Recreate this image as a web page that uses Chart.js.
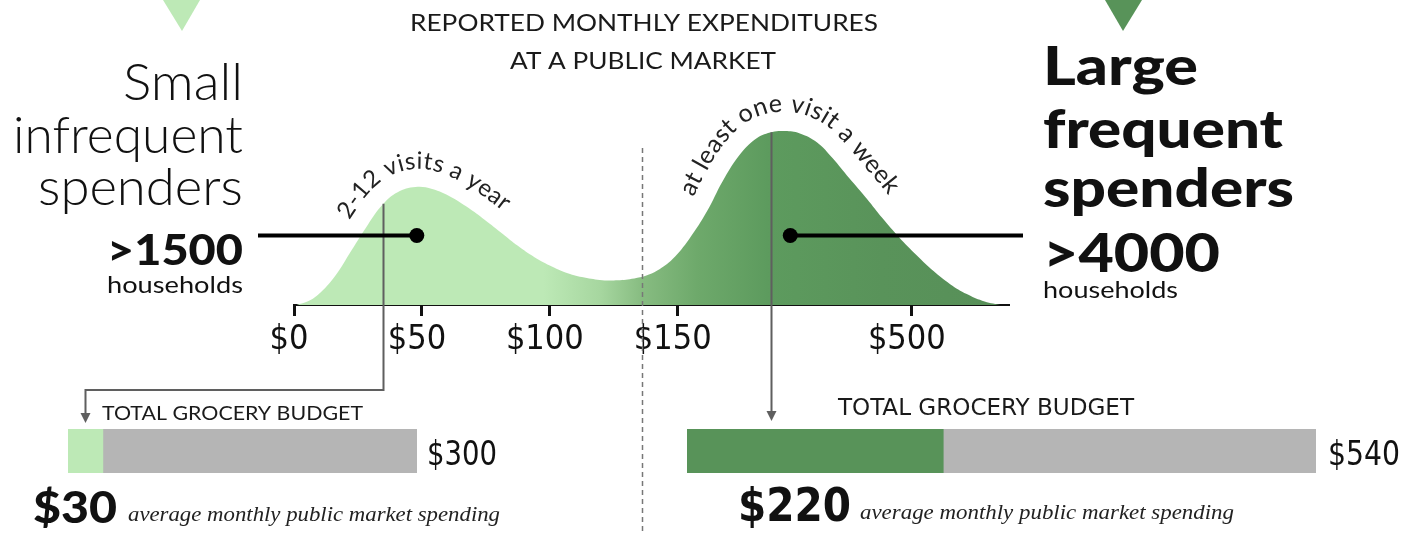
<!DOCTYPE html>
<html>
<head>
<meta charset="utf-8">
<script src="https://cdn.jsdelivr.net/npm/chart.js@4/dist/chart.umd.min.js"></script>
<style>
  html, body { margin: 0; padding: 0; background: #ffffff; }
  #wrap { position: relative; width: 1416px; height: 533px; overflow: hidden; background: #fff; }
  canvas { position: absolute; display: block; }
</style>
</head>
<body>
<div id="wrap">
  <canvas id="main" width="1416" height="533" style="left:0;top:0;width:1416px;height:533px"></canvas>
  <canvas id="barL"></canvas>
  <canvas id="barR"></canvas>
</div>
<script>
// ---------------- DATA ----------------
const spendTickLabels    = [0, 50, 100, 150, 500];          // $ labels on the axis
const spendTickPositions = [0, 1, 2, 3, 4.83];              // where each label sits on the (non-linear) spend axis
const curvePosition = [0.02, 0.10, 0.19, 0.32, 0.45, 0.58, 0.69, 0.81, 0.95, 1.08, 1.23, 1.36, 1.49, 1.63, 1.75,
                       1.88, 2.02, 2.14, 2.27, 2.41, 2.53, 2.66, 2.75, 2.84, 2.96, 3.09, 3.23, 3.35, 3.48, 3.62,
                       3.74, 3.84, 3.95, 4.09, 4.21, 4.34, 4.48, 4.60, 4.73, 4.87, 5.00, 5.13, 5.26, 5.38, 5.52];
const curveDensity  = [0, 1.8, 6.0, 16.5, 31.5, 46.5, 57.5, 64.8, 67.8, 66.7, 62.0, 56.0, 49.0, 41.0, 34.0,
                       27.5, 22.0, 18.3, 15.8, 14.3, 14.2, 15.3, 16.8, 19.8, 26.5, 38.0, 54.0, 71.0, 86.0, 96.0,
                       99.5, 100, 98.8, 93.5, 84.5, 73.0, 61.0, 50.0, 39.0, 28.5, 19.5, 12.0, 6.3, 2.5, 0];
const groupNames      = [["Small", "infrequent", "spenders"], ["Large", "frequent", "spenders"]];
const householdCounts = [">1500", ">4000"];
const visitLabels     = ["2-12 visits a year", "at least one visit a week"];
const avgMarketSpend  = [30, 220];     // average monthly public market spending ($)
const groceryBudget   = [300, 540];    // total grocery budget ($)
const dividerPosition = 2.72;          // dashed divider on spend axis
const budgetLinePosition = [0.695, 3.727];
const dotPosition     = [0.96, 3.88];
const dotLevel        = 40;

// ---------------- STYLE ----------------
const LIGHT = '#bde9b6', DARK = '#589359', GREY = '#b5b5b5', INK = '#111111';
const NARROW = "'Liberation Sans Narrow', 'DejaVu Sans Condensed', 'Roboto Condensed', Roboto, sans-serif";
const SANS = "Lato, 'Open Sans', sans-serif";
const SERIF = "'Liberation Serif', 'DejaVu Serif', serif";
const PX_PER_DOLLAR = 1.164;

function fitText(ctx, text, x, y, o) {
  ctx.save();
  ctx.font = `${o.style || 'normal'} ${o.weight || 400} ${o.size}px ${o.family || SANS}`;
  ctx.fillStyle = o.color || INK;
  const w = ctx.measureText(text).width;
  const sx = o.width ? o.width / w : 1;
  const ww = w * sx;
  const x0 = o.align === 'right' ? x - ww : o.align === 'center' ? x - ww / 2 : x;
  ctx.translate(x0, y);
  ctx.scale(sx, 1);
  ctx.textAlign = 'left';
  ctx.textBaseline = 'alphabetic';
  ctx.fillText(text, 0, 0);
  ctx.restore();
}

function sampleCurve(chart) {
  const pts = chart.getDatasetMeta(0).data;
  const out = [];
  for (let i = 0; i < pts.length - 1; i++) {
    const a = pts[i], b = pts[i + 1];
    const c1x = a.cp2x ?? a.x, c1y = a.cp2y ?? a.y, c2x = b.cp1x ?? b.x, c2y = b.cp1y ?? b.y;
    const N = 14;
    for (let k = 0; k < N; k++) {
      const t = k / N, m = 1 - t;
      out.push({
        x: m*m*m*a.x + 3*m*m*t*c1x + 3*m*t*t*c2x + t*t*t*b.x,
        y: m*m*m*a.y + 3*m*m*t*c1y + 3*m*t*t*c2y + t*t*t*b.y
      });
    }
  }
  const l = pts[pts.length - 1];
  out.push({ x: l.x, y: l.y });
  return out;
}

function yOnCurve(s, px) {
  for (let i = 0; i < s.length - 1; i++) {
    if (s[i].x <= px && s[i + 1].x >= px) {
      const t = (px - s[i].x) / ((s[i + 1].x - s[i].x) || 1);
      return s[i].y + (s[i + 1].y - s[i].y) * t;
    }
  }
  return s[s.length - 1].y;
}

function textOnCurve(ctx, s, text, startPx, offset, font, color, spacing) {
  const n = s.length, off = [];
  for (let i = 0; i < n; i++) {
    const a = s[Math.max(0, i - 2)], b = s[Math.min(n - 1, i + 2)];
    let dx = b.x - a.x, dy = b.y - a.y;
    const L = Math.hypot(dx, dy) || 1; dx /= L; dy /= L;
    off.push({ x: s[i].x + dy * offset, y: s[i].y - dx * offset });
  }
  const len = [0];
  for (let i = 1; i < n; i++) len.push(len[i - 1] + Math.hypot(off[i].x - off[i - 1].x, off[i].y - off[i - 1].y));
  let i0 = s.findIndex(p => p.x >= startPx);
  if (i0 < 0) i0 = 0;
  let pos = len[i0];
  ctx.save();
  ctx.font = font;
  ctx.fillStyle = color;
  ctx.textAlign = 'center';
  ctx.textBaseline = 'alphabetic';
  for (const ch of text) {
    const w = ctx.measureText(ch).width + (spacing || 0);
    const mid = pos + w / 2;
    let j = 0;
    while (j < n - 2 && len[j + 1] < mid) j++;
    const t = (mid - len[j]) / ((len[j + 1] - len[j]) || 1);
    const x = off[j].x + (off[j + 1].x - off[j].x) * t;
    const y = off[j].y + (off[j + 1].y - off[j].y) * t;
    const pa = off[Math.max(0, j - 5)], pb = off[Math.min(n - 1, j + 6)];
    const ang = Math.atan2(pb.y - pa.y, pb.x - pa.x);
    ctx.save();
    ctx.translate(x, y);
    ctx.rotate(ang);
    ctx.fillText(ch, 0, 0);
    ctx.restore();
    pos += w;
  }
  ctx.restore();
}

function arrowDown(ctx, x, tipY, color) {
  ctx.save();
  ctx.fillStyle = color;
  ctx.beginPath();
  ctx.moveTo(x - 5, tipY - 10);
  ctx.lineTo(x + 5, tipY - 10);
  ctx.lineTo(x, tipY);
  ctx.closePath();
  ctx.fill();
  ctx.restore();
}

const overlay = {
  id: 'overlay',
  afterDatasetsDraw(chart) {
    const ctx = chart.ctx, xs = chart.scales.x, ys = chart.scales.y;
    const s = sampleCurve(chart);

    // budget marker lines leading to the bars below
    ctx.save();
    ctx.strokeStyle = '#5f5f5f';
    ctx.lineWidth = 2;
    const lx = Math.round(xs.getPixelForValue(budgetLinePosition[0])) + 0.5;
    const rx = Math.round(xs.getPixelForValue(budgetLinePosition[1])) + 0.5;
    const leftBarX = 68 + 17.5;
    ctx.beginPath();
    ctx.moveTo(lx, yOnCurve(s, lx));
    ctx.lineTo(lx, 390);
    ctx.lineTo(leftBarX, 390);
    ctx.lineTo(leftBarX, 414);
    ctx.moveTo(rx, yOnCurve(s, rx));
    ctx.lineTo(rx, 412);
    ctx.stroke();
    ctx.restore();
    arrowDown(ctx, leftBarX, 423, '#5f5f5f');
    arrowDown(ctx, rx, 421, '#5f5f5f');

    // dashed divider
    ctx.save();
    ctx.strokeStyle = '#777777';
    ctx.lineWidth = 1.5;
    ctx.setLineDash([5, 4]);
    const dx = Math.round(xs.getPixelForValue(dividerPosition)) + 0.5;
    ctx.beginPath();
    ctx.moveTo(dx, 148);
    ctx.lineTo(dx, 533);
    ctx.stroke();
    ctx.restore();

    // connectors with dots
    const dy = ys.getPixelForValue(dotLevel);
    const d1 = xs.getPixelForValue(dotPosition[0]), d2 = xs.getPixelForValue(dotPosition[1]);
    ctx.save();
    ctx.strokeStyle = '#000';
    ctx.fillStyle = '#000';
    ctx.lineWidth = 4;
    ctx.beginPath();
    ctx.moveTo(258, dy); ctx.lineTo(d1, dy);
    ctx.moveTo(d2, dy); ctx.lineTo(1023, dy);
    ctx.stroke();
    ctx.beginPath(); ctx.arc(d1, dy, 7.5, 0, Math.PI * 2); ctx.fill();
    ctx.beginPath(); ctx.arc(d2, dy, 7.5, 0, Math.PI * 2); ctx.fill();
    ctx.restore();

    // curved labels
    textOnCurve(ctx, s, visitLabels[0], xs.getPixelForValue(0.54), 18, `400 24px ${SANS}`, '#222', 0.4);
    textOnCurve(ctx, s, visitLabels[1], xs.getPixelForValue(3.25), 19, `400 25px ${SANS}`, '#222', 0.4);
  },
  afterDraw(chart) {
    const ctx = chart.ctx;
    // triangles
    ctx.save();
    ctx.fillStyle = LIGHT;
    ctx.beginPath(); ctx.moveTo(163, 0); ctx.lineTo(200, 0); ctx.lineTo(182, 31); ctx.closePath(); ctx.fill();
    ctx.fillStyle = DARK;
    ctx.beginPath(); ctx.moveTo(1105, 0); ctx.lineTo(1142, 0); ctx.lineTo(1123, 31); ctx.closePath(); ctx.fill();
    ctx.restore();

    // title
    fitText(ctx, 'REPORTED MONTHLY EXPENDITURES', 644, 31, { size: 23, weight: 400, width: 468, align: 'center', color: '#1a1a1a' });
    fitText(ctx, 'AT A PUBLIC MARKET', 643, 69, { size: 23, weight: 400, width: 266, align: 'center', color: '#1a1a1a' });

    // left group
    const L = groupNames[0];
    fitText(ctx, L[0], 243, 100, { size: 52, weight: 300, width: 120, align: 'right' });
    fitText(ctx, L[1], 243, 153, { size: 52, weight: 300, width: 230, align: 'right' });
    fitText(ctx, L[2], 243, 205, { size: 52, weight: 300, width: 205, align: 'right' });
    fitText(ctx, householdCounts[0], 243, 265, { size: 42, weight: 900, width: 136, align: 'right' });
    fitText(ctx, 'households', 243, 293, { size: 24, weight: 400, width: 136, align: 'right' });

    // right group
    const R = groupNames[1];
    fitText(ctx, R[0], 1043, 85, { size: 54, weight: 900, width: 155 });
    fitText(ctx, R[1], 1043, 148, { size: 54, weight: 900, width: 240 });
    fitText(ctx, R[2], 1043, 207, { size: 54, weight: 900, width: 251 });
    fitText(ctx, householdCounts[1], 1043, 272, { size: 54, weight: 900, width: 177 });
    fitText(ctx, 'households', 1043, 298, { size: 24, weight: 400, width: 135 });

    // bar annotations
    fitText(ctx, 'TOTAL GROCERY BUDGET', 102, 420, { size: 20, weight: 400, width: 261, color: '#1a1a1a' });
    fitText(ctx, '$' + groceryBudget[0], 427, 465, { size: 34, weight: 400, family: NARROW, width: 70 });
    fitText(ctx, '$' + avgMarketSpend[0], 33, 523, { size: 44, weight: 900, width: 84 });
    fitText(ctx, 'average monthly public market spending', 128, 521, { size: 22, style: 'italic', family: SERIF, width: 372, color: '#222' });

    fitText(ctx, 'TOTAL GROCERY BUDGET', 838, 415, { size: 23, weight: 400, family: NARROW, width: 296, color: '#1a1a1a' });
    fitText(ctx, '$' + groceryBudget[1], 1328, 465, { size: 34, weight: 400, family: NARROW, width: 72 });
    fitText(ctx, '$' + avgMarketSpend[1], 738, 521, { size: 46, weight: 900, family: NARROW, width: 113 });
    fitText(ctx, 'average monthly public market spending', 860, 519, { size: 22, style: 'italic', family: SERIF, width: 374, color: '#222' });
  }
};

const ctxMain = document.getElementById('main');
new Chart(ctxMain, {
  type: 'line',
  data: {
    datasets: [{
      data: curvePosition.map((p, i) => ({ x: p, y: curveDensity[i] })),
      fill: 'origin',
      borderWidth: 0,
      borderColor: 'rgba(0,0,0,0)',
      pointRadius: 0,
      tension: 0.4,
      backgroundColor: (c) => {
        const chart = c.chart;
        if (!chart.chartArea) return LIGHT;
        const xs = chart.scales.x;
        const g = chart.ctx.createLinearGradient(0, 0, 1416, 0);
        const stops = [[1.95, '#bde9b6'], [2.40, '#a6d69f'], [2.72, '#87bc81'], [3.15, '#6ea96b'],
                       [3.70, '#5d9b5e'], [4.60, '#59935a'], [5.60, '#578f58']];
        stops.forEach(([v, col]) => g.addColorStop(Math.min(1, Math.max(0, xs.getPixelForValue(v) / 1416)), col));
        return g;
      }
    }]
  },
  options: {
    responsive: false,
    animation: false,
    events: [],
    layout: { padding: { left: 294, right: 407, top: 105, bottom: 0 } },
    plugins: { legend: { display: false }, tooltip: { enabled: false } },
    scales: {
      x: {
        type: 'linear', min: 0, max: 5.59, z: 1,
        afterBuildTicks: (sc) => { sc.ticks = spendTickPositions.map(v => ({ value: v })); },
        afterFit: (sc) => { sc.height = 533 - 305; },
        ticks: {
          autoSkip: false, maxRotation: 0, padding: 4, labelOffset: -5, color: INK,
          font: { family: NARROW, size: 34 },
          callback: (v, i) => '$' + spendTickLabels[i]
        },
        grid: { display: true, drawOnChartArea: false, drawTicks: true, tickLength: 11, tickWidth: 3, tickColor: INK, color: INK },
        border: { display: true, color: INK, width: 2 }
      },
      y: { type: 'linear', min: 0, max: 115, display: false }
    }
  },
  plugins: [overlay]
});

function budgetBar(id, i, left, color) {
  const el = document.getElementById(id);
  const w = Math.round(groceryBudget[i] * PX_PER_DOLLAR), h = 44;
  el.width = w; el.height = h;
  el.style.left = left + 'px'; el.style.top = '429px';
  el.style.width = w + 'px'; el.style.height = h + 'px';
  new Chart(el, {
    type: 'bar',
    data: {
      labels: [''],
      datasets: [
        { data: [avgMarketSpend[i]], backgroundColor: color, borderWidth: 0, barPercentage: 1, categoryPercentage: 1 },
        { data: [groceryBudget[i] - avgMarketSpend[i]], backgroundColor: GREY, borderWidth: 0, barPercentage: 1, categoryPercentage: 1 }
      ]
    },
    options: {
      indexAxis: 'y', responsive: false, animation: false, events: [],
      layout: { padding: 0 },
      plugins: { legend: { display: false }, tooltip: { enabled: false } },
      scales: {
        x: { stacked: true, min: 0, max: groceryBudget[i], display: false },
        y: { stacked: true, display: false }
      }
    }
  });
}
budgetBar('barL', 0, 68, LIGHT);
budgetBar('barR', 1, 687, DARK);
</script>
</body>
</html>
